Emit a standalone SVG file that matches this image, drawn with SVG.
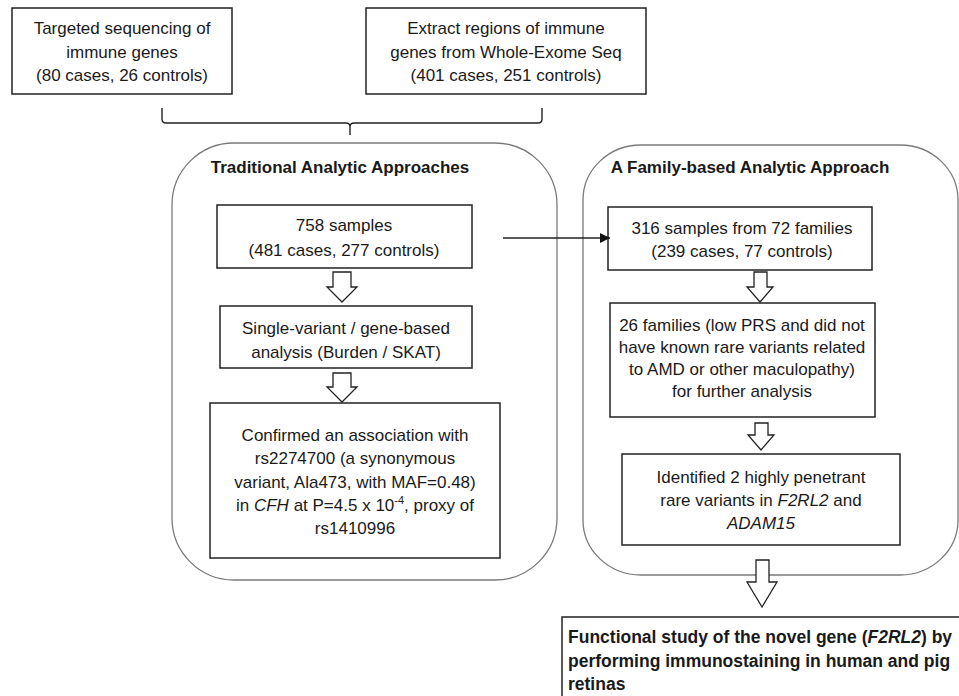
<svg xmlns="http://www.w3.org/2000/svg" width="959" height="696" viewBox="0 0 959 696">
<style>
text{font-family:"Liberation Sans",Arial,sans-serif;font-size:17px;fill:#1a1a1a;}
.c{text-anchor:middle;}
.b{font-weight:bold;}
.i{font-style:italic;}
.f{font-size:17.5px;}
.box{fill:#fff;stroke:#222;stroke-width:1.5;}
.cont{fill:none;stroke:#7a7a7a;stroke-width:1.3;}
.harrow{fill:#fff;stroke:#222;stroke-width:1.3;stroke-linejoin:miter;}
.line{fill:none;stroke:#222;stroke-width:1.4;}
</style>
<defs>
<marker id="ah" viewBox="0 0 10 10" refX="10" refY="5" markerWidth="10" markerHeight="10" markerUnits="userSpaceOnUse" orient="auto">
<path d="M0,0 L10,5 L0,10 z" fill="#111"/>
</marker>
</defs>
<rect width="959" height="696" fill="#fff"/>

<g id="container-traditional">
<rect class="cont" x="172" y="143" width="385" height="437" rx="62" ry="62"/>
<text class="c b" x="340" y="173">Traditional Analytic Approaches</text>
</g>
<g id="container-family">
<rect class="cont" x="583" y="145" width="375" height="430" rx="58" ry="55"/>
<text class="c b" x="750" y="173">A Family-based Analytic Approach</text>
</g>

<g id="node-targeted">
<rect class="box" x="12" y="8" width="220" height="86"/>
<text class="c" x="122" y="34">Targeted sequencing of</text>
<text class="c" x="122" y="58">immune genes</text>
<text class="c" x="122" y="81">(80 cases, 26 controls)</text>
</g>
<g id="node-extract">
<rect class="box" x="366" y="8" width="280" height="86"/>
<text class="c" x="506" y="34">Extract regions of immune</text>
<text class="c" x="506" y="58">genes from Whole-Exome Seq</text>
<text class="c" x="506" y="81">(401 cases, 251 controls)</text>
</g>

<g id="node-758">
<rect class="box" x="217" y="205" width="255" height="63"/>
<text class="c" x="344" y="231">758 samples</text>
<text class="c" x="344" y="256">(481 cases, 277 controls)</text>
</g>
<g id="node-single">
<rect class="box" x="220" y="306" width="252" height="62"/>
<text class="c" x="346" y="334">Single-variant / gene-based</text>
<text class="c" x="346" y="358">analysis (Burden / SKAT)</text>
</g>
<g id="node-confirmed">
<rect class="box" x="210" y="403" width="290" height="155"/>
<text class="c" x="355" y="441">Confirmed an association with</text>
<text class="c" x="355" y="464">rs2274700 (a synonymous</text>
<text class="c" x="355" y="488">variant, Ala473, with MAF=0.48)</text>
<text class="c" x="355" y="511">in <tspan class="i">CFH</tspan> at P=4.5 x 10<tspan dy="-7" font-size="11">-4</tspan><tspan dy="7">, proxy of</tspan></text>
<text class="c" x="355" y="534">rs1410996</text>
</g>

<g id="node-316">
<rect class="box" x="608" y="207" width="264" height="63"/>
<text class="c" x="742" y="234">316 samples from 72 families</text>
<text class="c" x="742" y="257">(239 cases, 77 controls)</text>
</g>
<g id="node-26families">
<rect class="box" x="610" y="303" width="265" height="114"/>
<text class="c" x="742" y="331">26 families (low PRS and did not</text>
<text class="c" x="742" y="353">have known rare variants related</text>
<text class="c" x="742" y="375">to AMD or other maculopathy)</text>
<text class="c" x="742" y="397">for further analysis</text>
</g>
<g id="node-identified">
<rect class="box" x="622" y="454" width="278" height="91"/>
<text class="c" x="761" y="483">Identified 2 highly penetrant</text>
<text class="c" x="761" y="506">rare variants in <tspan class="i">F2RL2</tspan> and</text>
<text class="c i" x="761" y="529">ADAM15</text>
</g>
<g id="node-functional">
<rect class="box" x="562" y="617" width="420" height="110"/>
<text class="b f" x="568" y="643">Functional study of the novel gene (<tspan class="i">F2RL2</tspan>) by</text>
<text class="b f" x="568" y="667">performing immunostaining in human and pig</text>
<text class="b f" x="568" y="690">retinas</text>
</g>

<g id="connectors">
<path class="line" d="M162,108 L162,119 Q162,123 166,123 L346,123 Q350,123 350,127 L350,135 M350,127 Q350,123 354,123 L538,123 Q542,123 542,119 L542,108"/>
<line class="line" x1="503" y1="238" x2="610" y2="238" marker-end="url(#ah)"/>
<polygon class="harrow" points="333,272 351,272 351,287 357,287 342,302 327,287 333,287"/>
<polygon class="harrow" points="333,373 351,373 351,387 357,387 342,402 327,387 333,387"/>
<polygon class="harrow" points="754,272 767,272 767,287 773,287 760,302 747,287 754,287"/>
<polygon class="harrow" points="755,423 768,423 768,435 774,435 761,450 748,435 755,435"/>
<polygon class="harrow" points="756,560 769,560 769,582 777,582 762,607 747,582 756,582"/>
</g>
</svg>
